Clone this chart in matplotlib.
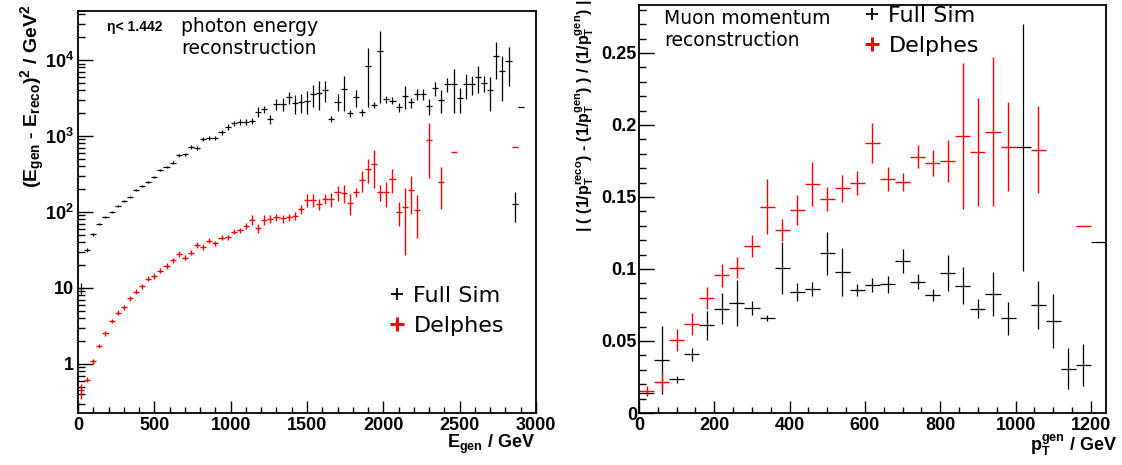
import numpy as np
import matplotlib
matplotlib.use("Agg")
import matplotlib.pyplot as plt
from matplotlib.lines import Line2D
from matplotlib.ticker import MultipleLocator, FixedLocator, FixedFormatter, LogLocator, NullFormatter, FormatStrFormatter

# ---------------- data ----------------
# photon energy resolution, 40 GeV bins
photon_bin_width = 40
photon_e = np.arange(20, 2901, photon_bin_width)

photon_fullsim = [
    9.9, 31.6, 51, 69.5, 86, 101, 121, 138, 159, 193,
    220, 250, 289, 357, 391, 446, 557, 574, 722, 695,
    922, 942, 942, 1120, 1325, 1470, 1545, 1530, 1590, 2090,
    2265, 1660, 2640, 2640, 3230, 2690, 2770, 2920, 3570, 3720,
    4030, 1675, 2830, 4150, 1990, 3230, 2050, 8420, 2580, 13260,
    3040, 2920, 2390, 3390, 2770, 3570, 3570, 2480, 4240, 2980,
    4830, 4830, 3130, 4800, 4830, 6030, 4930, 4030, 11400, 7170,
    9800, 127, 2410,
]
photon_fullsim_err = [
    1.6, 1.5, 2, 2.5, 3, 3, 4, 4, 5, 6,
    7, 8, 10, 12, 14, 16, 25, 30, 40, 40,
    60, 60, 60, 90, 110, 130, 140, 150, 160, 300,
    250, 225, 470, 480, 570, 740, 750, 1000, 1180, 1500,
    1230, 150, 690, 2000, 200, 800, 220, 6000, 250, 10500,
    350, 300, 300, 1100, 400, 630, 630, 580, 860, 1000,
    1000, 2800, 1150, 1700, 1350, 2350, 1150, 1900, 5700, 4300,
    5200, 54, 0,
]
nan = np.nan
photon_delphes = [
    0.45, 0.62, 1.09, 1.72, 2.54, 3.68, 4.73, 5.57, 7.31, 8.93,
    10.6, 13.2, 14.4, 16.9, 19.5, 23.1, 28.0, 25.1, 29.2, 36.8,
    34.6, 41.9, 38.7, 45.9, 46.4, 55.1, 57.4, 65.4, 78.5, 61.5,
    78.5, 81.7, 85, 82.6, 85, 88.5, 109, 144, 144, 127,
    148, 148, 181, 180, 133, 181, 264, 368, 428, 181,
    181, 272, 100, 117, 195, 106, nan, 877, nan, 250,
    nan, 611, nan, nan, nan, nan, nan, nan, nan, nan,
    nan, 709, nan,
]
photon_delphes_err = [
    0.1, 0.05, 0.08, 0.12, 0.18, 0.26, 0.35, 0.42, 0.55, 0.65,
    0.8, 1.0, 1.1, 1.3, 1.5, 1.8, 2.2, 2.0, 2.3, 2.9,
    2.8, 3.3, 3.1, 3.7, 3.8, 4.5, 4.8, 6, 12, 8,
    12, 9, 9, 10, 10, 10, 16, 27, 27, 20,
    22, 30, 40, 48, 41, 23, 78, 125, 218, 43,
    65, 96, 35, 90, 100, 61, nan, 600, nan, 140,
    nan, 0, nan, nan, nan, nan, nan, nan, nan, nan,
    nan, 0, nan,
]

# muon transverse momentum resolution, 40 GeV bins
muon_bin_width = 40
muon_pt = np.arange(20, 1221, muon_bin_width)

muon_fullsim = [
    0.0137, 0.0366, 0.0234, 0.0407, 0.0609, 0.0725, 0.0762, 0.0729, 0.0662, 0.1007,
    0.084, 0.0863, 0.111, 0.0979, 0.0854, 0.0889, 0.0894, 0.1056, 0.0912, 0.0819,
    0.097, 0.0884, 0.0725, 0.0826, 0.0657, 0.1845, 0.075, 0.0639, 0.0306, 0.0333,
    0.1185,
]
muon_fullsim_err = [
    0.002, 0.0237, 0.0025, 0.0045, 0.010, 0.011, 0.016, 0.005, 0.002, 0.018,
    0.006, 0.005, 0.015, 0.017, 0.004, 0.0046, 0.006, 0.0082, 0.0053, 0.004,
    0.0124, 0.0127, 0.0064, 0.015, 0.0116, 0.0858, 0.0167, 0.019, 0.0142, 0.0146,
    0.0,
]
muon_delphes = [
    0.0155, 0.0218, 0.0507, 0.0618, 0.0801, 0.0958, 0.1009, 0.116, 0.1433, 0.127,
    0.141, 0.159, 0.1484, 0.156, 0.160, 0.1877, 0.1625, 0.1604, 0.1778, 0.1738,
    0.175, 0.1921, 0.181, 0.1954, 0.185, nan, 0.1829, nan, nan, 0.1299,
    nan,
]
muon_delphes_err = [
    0.003, 0.0058, 0.0075, 0.0075, 0.0076, 0.008, 0.0075, 0.0074, 0.019, 0.0075,
    0.0104, 0.015, 0.0082, 0.0093, 0.0083, 0.014, 0.0081, 0.006, 0.008, 0.009,
    0.0147, 0.0507, 0.0376, 0.052, 0.031, nan, 0.030, nan, nan, 0.0,
    nan,
]

# ---------------- style ----------------
plt.rcParams["mathtext.fontset"] = "custom"
for key in ("rm", "it", "bf", "sf"):
    plt.rcParams["mathtext." + key] = "Liberation Sans:bold"

LABEL_FONT = {"family": "Liberation Sans", "weight": "bold", "size": 13}
TICK_FONT = {"family": "Liberation Sans", "weight": "bold", "size": 13}
TEXT_FONT = {"family": "DejaVu Sans", "size": 13.5}

W, H = 1122, 465
fig = plt.figure(figsize=(W / 100, H / 100), dpi=100)


def px_axes(left, right, top, bottom):
    return fig.add_axes([left / W, 1 - bottom / H, (right - left) / W, (bottom - top) / H])


ax1 = px_axes(78, 536, 11, 413)
ax2 = px_axes(639, 1106, 5, 413)

for ax in (ax1, ax2):
    for s in ("left", "bottom", "top", "right"):
        ax.spines[s].set_linewidth(1.3)
    ax.tick_params(which="both", direction="in", top=False, right=False, width=1.0, color="black")
    ax.tick_params(axis="y", which="major", length=10.5, pad=3)
    ax.tick_params(axis="y", which="minor", length=5)
    ax.tick_params(axis="x", which="major", length=8.5, pad=3)
    ax.tick_params(axis="x", which="minor", length=4.5)


def draw_hist(ax, x, y, err, half_width, color, lw):
    ax.errorbar(x, y, xerr=half_width, yerr=err, fmt="none", ecolor=color,
                elinewidth=lw, capsize=0)


# ---------------- left: photon energy ----------------
draw_hist(ax1, photon_e, photon_fullsim, photon_fullsim_err, photon_bin_width / 2, "black", 0.9)
draw_hist(ax1, photon_e, photon_delphes, photon_delphes_err, photon_bin_width / 2, "red", 1.0)
ax1.set_yscale("log")
ax1.set_xlim(0, 3000)
ax1.set_ylim(0.226, 4.42e4)
ax1.xaxis.set_major_locator(MultipleLocator(500))
ax1.xaxis.set_minor_locator(MultipleLocator(100))
ax1.yaxis.set_major_locator(FixedLocator([1, 10, 100, 1000, 10000]))
ax1.yaxis.set_major_formatter(FixedFormatter(["1", "10", r"$10^{2}$", r"$10^{3}$", r"$10^{4}$"]))
ax1.yaxis.set_minor_locator(LogLocator(base=10, subs=np.arange(2, 10)))
ax1.yaxis.set_minor_formatter(NullFormatter())

ax1.text(0.0633, 0.951, "η< 1.442", transform=ax1.transAxes, ha="left", va="baseline",
         family="Liberation Sans", weight="bold", size=10)
ax1.text(0.2249, 0.985, "photon energy\nreconstruction", transform=ax1.transAxes,
         ha="left", va="top", linespacing=1.2, **TEXT_FONT)

ax1.set_xlabel(r"E$_{gen}$ / GeV", ha="right", va="baseline", **LABEL_FONT)
ax1.xaxis.set_label_coords(0.998, -0.087)
ax1.set_ylabel(r"(E$_{gen}$ - E$_{reco}$)$^{2}$ / GeV$^{2}$", ha="right", va="baseline",
               family="Liberation Sans", weight="bold", size=14)
ax1.yaxis.set_label_coords(-0.088, 1.015)

# ---------------- right: muon momentum ----------------
draw_hist(ax2, muon_pt, muon_fullsim, muon_fullsim_err, muon_bin_width / 2, "black", 0.9)
draw_hist(ax2, muon_pt, muon_delphes, muon_delphes_err, muon_bin_width / 2, "red", 1.0)
ax2.set_xlim(0, 1240)
ax2.set_ylim(0, 0.2833)
ax2.xaxis.set_major_locator(MultipleLocator(200))
ax2.xaxis.set_minor_locator(MultipleLocator(50))
ax2.yaxis.set_major_locator(MultipleLocator(0.05))
ax2.yaxis.set_minor_locator(MultipleLocator(0.01))
ax2.yaxis.set_major_formatter(FormatStrFormatter("%g"))
ax2.tick_params(axis="y", which="major", pad=1.5)

ax2.text(0.0535, 0.99, "Muon momentum\nreconstruction", transform=ax2.transAxes,
         ha="left", va="top", linespacing=1.2, **TEXT_FONT)

ax2.set_xlabel(r"p$_{T}^{gen}$ / GeV", ha="right", va="baseline", **LABEL_FONT)
ax2.xaxis.set_label_coords(1.0236, -0.092)
ax2.set_ylabel(r"| ( (1/p$_{T}^{reco}$) - (1/p$_{T}^{gen}$) ) / (1/p$_{T}^{gen}$) |",
               ha="right", va="baseline", family="Liberation Sans", weight="bold", size=11.5)
ax2.yaxis.set_label_coords(-0.105, 1.012)

for ax in (ax1, ax2):
    for lab in ax.get_xticklabels() + ax.get_yticklabels():
        lab.set_fontfamily(TICK_FONT["family"])
        lab.set_fontweight(TICK_FONT["weight"])
        lab.set_fontsize(TICK_FONT["size"])

# ---------------- legends ----------------
handles = [
    Line2D([], [], ls="none", marker="+", color="black", ms=9, mew=1.3),
    Line2D([], [], ls="none", marker="+", color="red", ms=10, mew=2.2),
]
labels = ["Full Sim", "Delphes"]
leg_kw = dict(frameon=False, loc="upper left", borderpad=0, borderaxespad=0,
              handlelength=0.7, handletextpad=0.4, labelspacing=0.46,
              prop={"family": "DejaVu Sans", "size": 16}, bbox_transform=fig.transFigure)
ax1.legend(handles, labels, bbox_to_anchor=(389 / W, 1 - 286 / H), **leg_kw)
ax2.legend(handles, labels, bbox_to_anchor=(864 / W, 1 - 6 / H), **leg_kw)

fig.savefig("out.png", dpi=100)
